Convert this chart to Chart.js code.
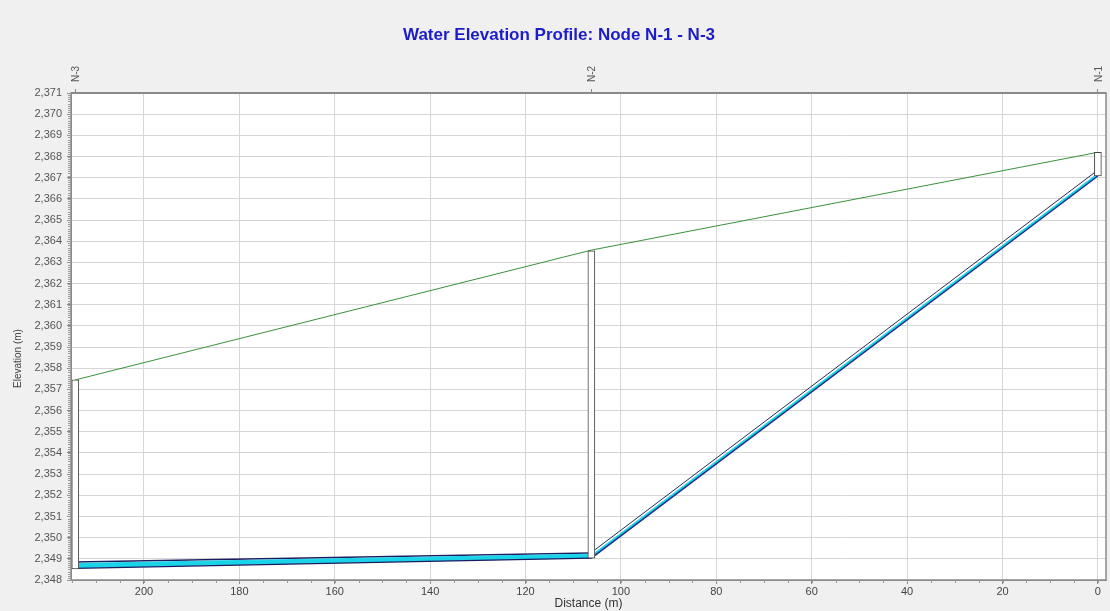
<!DOCTYPE html>
<html>
<head>
<meta charset="utf-8">
<script src="https://cdn.jsdelivr.net/npm/chart.js@4.4.1/dist/chart.umd.min.js"></script>
<style>
    html, body { margin: 0; padding: 0; background: #f0f0f0; }
    #wrap { width: 1110px; height: 611px; position: relative; }
</style>
</head>
<body>
<div id="wrap"><canvas id="chart" width="1110" height="611"></canvas></div>
<script>
// nodes along the profile (distance measured from N-1)
const nodeNames = ['N-3', 'N-2', 'N-1'];
const nodeStations = [214.4, 106.2, 0];
const hglElevations = [2357.45, 2363.58, 2368.2];
const structureTops = [2357.45, 2363.55, 2368.2];
const structureBottoms = [2348.52, 2349.03, 2367.08];

// pipe N-3 -> N-2 (values at N-3, N-2)
const pipeAInvert = [2348.55, 2349.03];
const pipeAWater = [2348.78, 2349.22];
const pipeACrown = [2348.85, 2349.28];
// pipe N-2 -> N-1 (values at N-2, N-1)
const pipeBInvert = [2349.03, 2367.08];
const pipeBWater = [2349.16, 2367.2];
const pipeBCrown = [2349.3, 2367.36];

const pts = (xs, ys) => xs.map((x, i) => ({ x: x, y: ys[i] }));
const pipeAStations = [nodeStations[0], nodeStations[1]];
const pipeBStations = [nodeStations[1], nodeStations[2]];

const NAVY = '#1b1b62';
const CYAN = '#19d3e8';
const FONT = 'Arial, "Liberation Sans", sans-serif';

function lineSet(label, data, color, width, extra) {
    return Object.assign({
        type: 'line', label: label, data: data,
        borderColor: color, borderWidth: width,
        pointRadius: 0, tension: 0, fill: false, order: 2
    }, extra || {});
}

// white plot area, frame, minor ticks, y title
const plotFrame = {
    id: 'plotFrame',
    beforeDraw(chart) {
        const { ctx, chartArea: a } = chart;
        ctx.save();
        ctx.fillStyle = '#ffffff';
        ctx.fillRect(a.left, a.top, a.right - a.left, a.bottom - a.top);
        ctx.restore();
    },
    afterDraw(chart) {
        const { ctx, chartArea: a, scales } = chart;
        ctx.save();
        ctx.strokeStyle = '#8a8a8a';
        ctx.lineWidth = 1.5;
        ctx.strokeRect(a.left, a.top, a.right - a.left, a.bottom - a.top);
        ctx.beginPath();
        ctx.lineWidth = 2;
        ctx.moveTo(a.left, a.top);
        ctx.lineTo(a.right, a.top);
        ctx.stroke();

        // minor ticks
        ctx.strokeStyle = '#9a9a9a';
        ctx.lineWidth = 1;
        const y = scales.y;
        ctx.beginPath();
        for (let v = y.min; v <= y.max + 1e-6; v += 0.1) {
            const py = Math.round(y.getPixelForValue(v)) + 0.5;
            ctx.moveTo(a.left - 3, py);
            ctx.lineTo(a.left, py);
        }
        const x = scales.x;
        for (let v = 0; v <= x.max; v += 5) {
            const px = Math.round(x.getPixelForValue(v)) + 0.5;
            ctx.moveTo(px, a.bottom);
            ctx.lineTo(px, a.bottom + 3);
        }
        ctx.stroke();

        // y axis title, a little below the middle as in the original
        ctx.translate(18, (a.top + a.bottom) / 2 + 22);
        ctx.rotate(-Math.PI / 2);
        ctx.fillStyle = '#444';
        ctx.font = '10px ' + FONT;
        ctx.textAlign = 'center';
        ctx.textBaseline = 'middle';
        ctx.fillText('Elevation (m)', 0, 0);
        ctx.restore();
    }
};

new Chart(document.getElementById('chart'), {
    type: 'line',
    data: {
        datasets: [
            lineSet('Pipe A invert', pts(pipeAStations, pipeAInvert), NAVY, 1.2),
            lineSet('Pipe A water', pts(pipeAStations, pipeAWater), CYAN, 1, { fill: '-1', backgroundColor: CYAN }),
            lineSet('Pipe A crown', pts(pipeAStations, pipeACrown), NAVY, 1.5),
            lineSet('Pipe B invert', pts(pipeBStations, pipeBInvert), '#1e2f8a', 1.5),
            lineSet('Pipe B water', pts(pipeBStations, pipeBWater), CYAN, 1, { fill: '-1', backgroundColor: CYAN }),
            lineSet('Pipe B crown', pts(pipeBStations, pipeBCrown), '#2a2a55', 1),
            lineSet('HGL', pts(nodeStations, hglElevations), '#3a923a', 1),
            {
                type: 'bar',
                label: 'Structures',
                data: nodeStations.map((s, i) => ({ x: s, y: [structureBottoms[i], structureTops[i]] })),
                backgroundColor: '#ffffff',
                borderColor: '#454545',
                borderWidth: 1,
                borderSkipped: false,
                barThickness: 7,
                order: 0
            }
        ]
    },
    options: {
        responsive: false,
        animation: false,
        layout: { padding: { left: 12, right: 4, top: 0, bottom: 0 } },
        plugins: {
            legend: { display: false },
            tooltip: { enabled: false },
            title: {
                display: true,
                text: 'Water Elevation Profile: Node N-1 - N-3',
                color: '#1c1cc8',
                font: { family: FONT, size: 17, weight: 'bold' },
                padding: { top: 25, bottom: 8.6 }
            }
        },
        scales: {
            x: {
                type: 'linear',
                position: 'bottom',
                reverse: true,
                min: -1.7,
                max: 215.3,
                offset: false,
                afterFit(scale) { scale.height = 31; },
                ticks: {
                    stepSize: 20,
                    includeBounds: false,
                    maxRotation: 0,
                    autoSkip: false,
                    padding: 1,
                    color: '#444',
                    font: { family: FONT, size: 11 }
                },
                grid: { color: '#d6d6d6', offset: false, tickLength: 4, tickColor: '#888' },
                border: { color: '#8a8a8a' },
                title: {
                    display: true,
                    text: 'Distance (m)',
                    color: '#333',
                    padding: { top: 0, bottom: 0 },
                    font: { family: FONT, size: 12 }
                }
            },
            x2: {
                type: 'linear',
                position: 'top',
                reverse: true,
                min: -1.7,
                max: 215.3,
                offset: false,
                afterFit(scale) { scale.height = 39; },
                afterBuildTicks(scale) { scale.ticks = nodeStations.map(v => ({ value: v })); },
                ticks: {
                    minRotation: 90,
                    maxRotation: 90,
                    autoSkip: false,
                    padding: 7,
                    labelOffset: 13,
                    color: '#555',
                    font: { family: FONT, size: 10 },
                    callback: (v, i) => nodeNames[i]
                },
                grid: { drawOnChartArea: false, tickLength: 4, tickColor: '#888' },
                border: { color: '#8a8a8a' }
            },
            y: {
                type: 'linear',
                min: 2348,
                max: 2371,
                afterFit(scale) { scale.width = 59; },
                ticks: {
                    stepSize: 1,
                    autoSkip: false,
                    padding: 5,
                    color: '#555',
                    font: { family: FONT, size: 11 },
                    callback: v => v.toLocaleString('en-US')
                },
                grid: { color: '#d6d6d6', tickLength: 4, tickColor: '#888' },
                border: { color: '#8a8a8a' }
            }
        }
    },
    plugins: [plotFrame]
});
</script>
</body>
</html>
